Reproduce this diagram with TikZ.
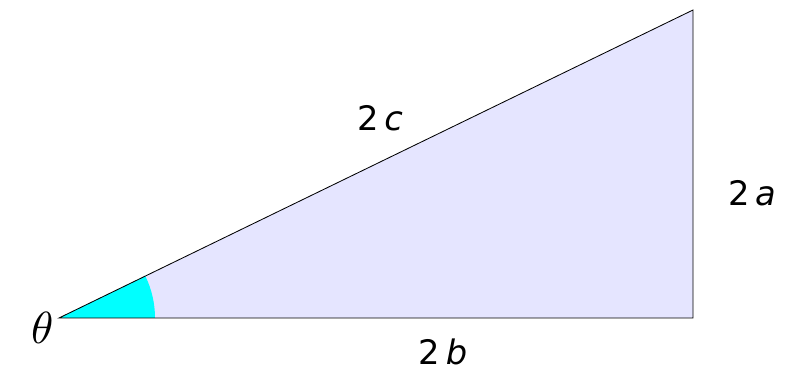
\documentclass[tikz,border=0pt]{standalone}
\usepackage{unicode-math}
\setmainfont{DejaVu Sans}
\usetikzlibrary{positioning}
\definecolor{wedge}{RGB}{0,255,255}
\tikzset{lbl/.style={font=\fontsize{24}{28}\selectfont},
  anglbl/.style={font=\fontsize{32}{36}\selectfont}}

\begin{document}
\begin{tikzpicture}[line width=0.6pt]
\useasboundingbox (0,0) rectangle (19.9,9.275);
% 三角形顶点
\coordinate (A) at (1.475,1.325);
\coordinate (B) at (17.325,1.325);
\coordinate (C) at (17.325,9.025);
% 填充
\fill[blue!10] (A) -- (B) -- (C) -- cycle;
% 角 theta 扇形
\fill[wedge] (A) -- ++(2.4,0) arc (0:{atan(7.7/15.85)}:2.4) -- cycle;
% 边
\draw (A) -- (B) -- (C) -- cycle;
% 标注
\node[anglbl] (th) at (1.05,1.075) {$\theta$};
\node[lbl] (lb) at (11.075,0.475) {2\,\textit{b}};
\node[lbl] (lc) at (9.5,6.325) {2\,\textit{c}};
\node[lbl] (la) at (18.8,4.45) {2\,\textit{a}};
\end{tikzpicture}
\end{document}
